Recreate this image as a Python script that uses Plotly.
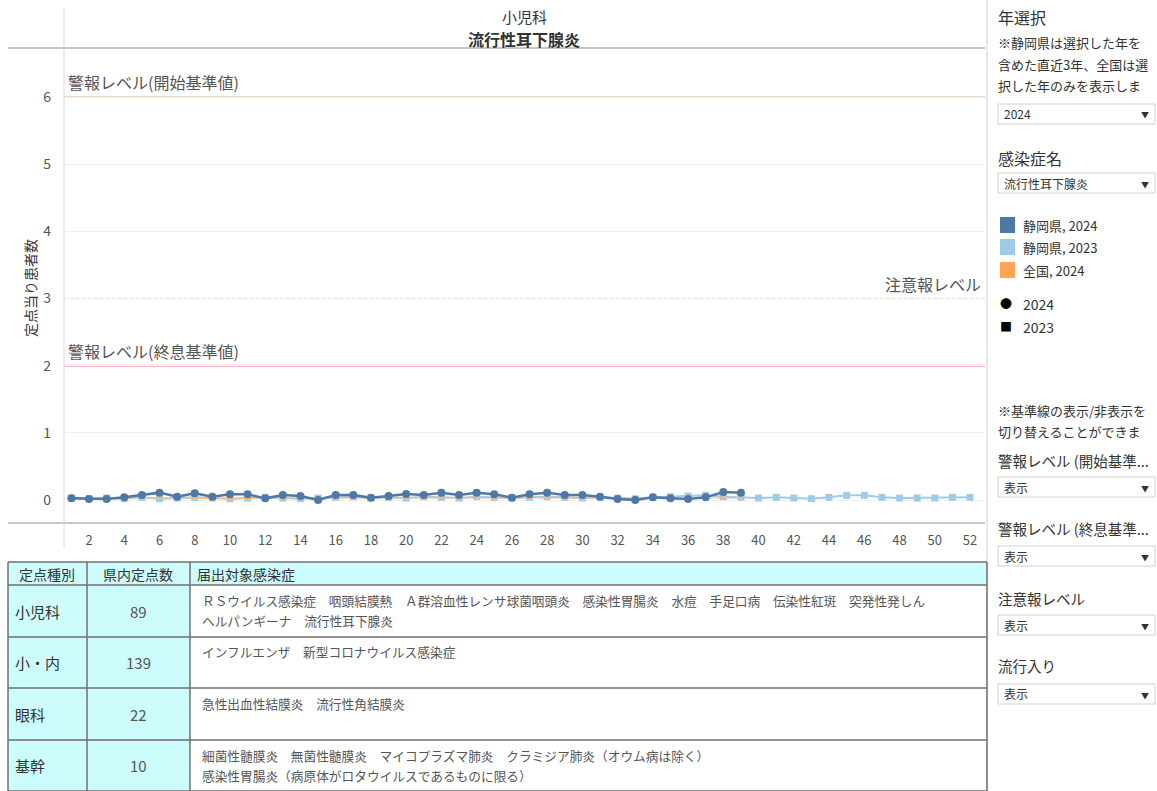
import plotly.graph_objects as go

# ---------------- data ----------------
weeks_2024 = [1, 2, 3, 4, 5, 6, 7, 8, 9, 10, 11, 12, 13, 14, 15, 16, 17, 18, 19, 20,
              21, 22, 23, 24, 25, 26, 27, 28, 29, 30, 31, 32, 33, 34, 35, 36, 37, 38, 39]
weeks_2023 = [1, 2, 3, 4, 5, 6, 7, 8, 9, 10, 11, 12, 13, 14, 15, 16, 17, 18, 19, 20,
              21, 22, 23, 24, 25, 26, 27, 28, 29, 30, 31, 32, 33, 34, 35, 36, 37, 38, 39, 40,
              41, 42, 43, 44, 45, 46, 47, 48, 49, 50, 51, 52]
shizuoka_2024 = [0.025, 0.015, 0.015, 0.04, 0.075, 0.11, 0.05, 0.10, 0.05, 0.085,
                 0.085, 0.025, 0.075, 0.06, 0.0, 0.075, 0.075, 0.035, 0.06, 0.09,
                 0.075, 0.11, 0.075, 0.11, 0.085, 0.035, 0.085, 0.11, 0.075, 0.075,
                 0.05, 0.015, 0.0, 0.04, 0.025, 0.015, 0.04, 0.12, 0.11]
shizuoka_2023 = [0.03, 0.02, 0.03, 0.02, 0.04, 0.02, 0.03, 0.04, 0.03, 0.02,
                 0.03, 0.04, 0.03, 0.02, 0.03, 0.04, 0.05, 0.03, 0.04, 0.03,
                 0.05, 0.04, 0.03, 0.05, 0.04, 0.03, 0.04, 0.05, 0.04, 0.03,
                 0.04, 0.03, 0.02, 0.04, 0.05, 0.06, 0.07, 0.05, 0.04, 0.03,
                 0.04, 0.03, 0.02, 0.04, 0.07, 0.07, 0.04, 0.03, 0.03, 0.03,
                 0.04, 0.04]
national_2024 = [0.03, 0.03, 0.03, 0.03, 0.03, 0.04, 0.03, 0.03, 0.02, 0.015,
                 0.02, 0.03, 0.03, 0.03, 0.03, 0.03, 0.03, 0.03, 0.03, 0.03,
                 0.03, 0.03, 0.03, 0.03, 0.02, 0.02, 0.03, 0.03, 0.03, 0.03,
                 0.03, 0.03, 0.03, 0.03, 0.03, 0.03, 0.03, 0.03, 0.03]
x_ticks = [2, 4, 6, 8, 10, 12, 14, 16, 18, 20, 22, 24, 26, 28, 30, 32, 34, 36, 38, 40,
           42, 44, 46, 48, 50, 52]
y_ticks = [0, 1, 2, 3, 4, 5, 6]
ref_levels = [6, 2, 3]
ref_labels = ["警報レベル(開始基準値)", "警報レベル(終息基準値)", "注意報レベル"]

table_header = ["定点種別", "県内定点数", "届出対象感染症"]
table_types = ["小児科", "小・内", "眼科", "基幹"]
table_counts = ["89", "139", "22", "10"]
table_diseases = [
    ["ＲＳウイルス感染症　咽頭結膜熱　Ａ群溶血性レンサ球菌咽頭炎　感染性胃腸炎　水痘　手足口病　伝染性紅斑　突発性発しん",
     "ヘルパンギーナ　流行性耳下腺炎"],
    ["インフルエンザ　新型コロナウイルス感染症"],
    ["急性出血性結膜炎　流行性角結膜炎"],
    ["細菌性髄膜炎　無菌性髄膜炎　マイコプラズマ肺炎　クラミジア肺炎（オウム病は除く）",
     "感染性胃腸炎（病原体がロタウイルスであるものに限る）"],
]

# ---------------- layout geometry ----------------
W, H = 1157, 791
L, R, T, B = 64, 985, 48, 523
FONT = "Noto Sans CJK JP"


def px(x):
    return (x - L) / (R - L)


def py(y):
    return (B - y) / (B - T)


fig = go.Figure()

# reference lines
ref_colors = ["#e8d6c8", "#f0a6b0", "#c9cfb4"]
ref_dash = ["solid", "solid", "dot"]
ref_width = [2, 2, 1.5]
for lv, c, d, w in zip(ref_levels, ref_colors, ref_dash, ref_width):
    fig.add_shape(type="line", xref="paper", yref="y", x0=0, x1=1, y0=lv, y1=lv,
                  line=dict(color=c, width=w, dash=d), layer="below")

fig.add_trace(go.Scatter(x=weeks_2023, y=shizuoka_2023, mode="lines+markers",
                         line=dict(color="#a0cbe8", width=2),
                         marker=dict(symbol="square", size=7, color="#a0cbe8"),
                         name="静岡県, 2023", showlegend=False))
fig.add_trace(go.Scatter(x=weeks_2024, y=national_2024, mode="lines+markers",
                         line=dict(color="#ffb877", width=1),
                         marker=dict(symbol="circle", size=4, color="#ffb877"),
                         name="全国, 2024", showlegend=False))
fig.add_trace(go.Scatter(x=weeks_2024, y=shizuoka_2024, mode="lines+markers",
                         line=dict(color="#4e79a7", width=2.5),
                         marker=dict(symbol="circle", size=8, color="#4e79a7"),
                         name="静岡県, 2024", showlegend=False))

fig.update_layout(
    width=W, height=H,
    margin=dict(l=L, r=W - R, t=T, b=H - B, pad=0),
    paper_bgcolor="white", plot_bgcolor="white",
    font=dict(family=FONT, color="#555555", size=13),
    showlegend=False,
    xaxis=dict(range=[0.58, 52.85], tickvals=x_ticks, ticks="", showgrid=False,
               zeroline=False, showline=False, tickfont=dict(size=13, color="#555"),
               ticklabelstandoff=8, fixedrange=True),
    yaxis=dict(range=[-0.342, 6.73], tickvals=y_ticks, ticks="", showgrid=True,
               gridcolor="#f0f0f0", gridwidth=1, zeroline=False, showline=False,
               tickfont=dict(size=14, color="#555"), ticklabelstandoff=12,
               fixedrange=True),
)

shapes = []
annos = []


def hline(x0, x1, y, color="#c8c8c8", width=1):
    shapes.append(dict(type="line", xref="paper", yref="paper", x0=px(x0), x1=px(x1),
                       y0=py(y), y1=py(y), line=dict(color=color, width=width)))


def vline(x, y0, y1, color="#c8c8c8", width=1):
    shapes.append(dict(type="line", xref="paper", yref="paper", x0=px(x), x1=px(x),
                       y0=py(y0), y1=py(y1), line=dict(color=color, width=width)))


def rect(x0, y0, x1, y1, fill, line_color="rgba(0,0,0,0)", width=1):
    shapes.append(dict(type="rect", xref="paper", yref="paper", x0=px(x0), x1=px(x1),
                       y0=py(y1), y1=py(y0), fillcolor=fill,
                       line=dict(color=line_color, width=width), layer="below"))


def text(x, y, s, size=13, color="#555555", anchor="left", bold=False):
    if bold:
        s = "<b>" + s + "</b>"
    annos.append(dict(xref="paper", yref="paper", x=px(x), y=py(y), text=s,
                      showarrow=False, xanchor=anchor, yanchor="middle",
                      font=dict(size=size, color=color, family=FONT)))


# frame lines
hline(8, 985, 48, "#c8c8c8", 2)
hline(8, 985, 523, "#c8c8c8", 2)
vline(64, 8, 548, "#d8d8d8", 1)
vline(987, 0, 791, "#d0d0d0", 1)

# title
text(524, 16, "小児科", 15, "#333333", "center")
text(524, 39, "流行性耳下腺炎", 16, "#333333", "center", bold=True)

# y-axis title
annos.append(dict(xref="paper", yref="paper", x=px(30), y=py(288), text="定点当り患者数",
                  showarrow=False, textangle=-90, xanchor="center", yanchor="middle",
                  font=dict(size=14, color="#333333", family=FONT)))

# reference labels
text(66, 82, ref_labels[0], 16, "#555555")
text(66, 351, ref_labels[1], 16, "#555555")
text(983, 284, ref_labels[2], 16, "#555555", "right")

# ---------------- table ----------------
cols = [8, 87, 190, 987]
rows = [562, 585, 637, 688, 740, 791]
cyan = "#ccfcfc"
rect(8, 562, 987, 585, cyan)
rect(8, 585, 190, 791, cyan)
for yy in rows:
    hline(8, 987, yy, "#707070", 1.5)
for xx in cols:
    vline(xx, 562, 791, "#707070", 1.5)
text(47, 574, table_header[0], 14, "#333333", "center")
text(138, 574, table_header[1], 14, "#333333", "center")
text(195, 574, table_header[2], 14, "#333333")
for i in range(4):
    top, bot = rows[i + 1], rows[i + 2]
    mid = (top + bot) / 2
    text(13, mid, table_types[i], 15, "#333333")
    text(138, mid, table_counts[i], 15, "#555555", "center")
    for j, line in enumerate(table_diseases[i]):
        text(200, top + 15 + 20 * j, line, 12.7, "#555555")

# ---------------- right panel ----------------
text(996, 17, "年選択", 16, "#333333")
for k, s in enumerate(["※静岡県は選択した年を", "含めた直近3年、全国は選", "択した年のみを表示しま"]):
    text(996, 43 + 21.5 * k, s, 13, "#333333")


def dropdown(ytop, label):
    shapes.append(dict(type="rect", xref="paper", yref="paper", x0=px(998), x1=px(1155),
                       y0=py(ytop + 20), y1=py(ytop), fillcolor="white",
                       line=dict(color="#d0d0d0", width=1)))
    text(1002, ytop + 10, label, 12, "#333333")
    text(1145, ytop + 11, "▼", 8, "#333333", "center")


dropdown(104, "2024")
text(996, 158, "感染症名", 16, "#333333")
dropdown(173, "流行性耳下腺炎")

legend_items = [("#4e79a7", "静岡県, 2024", 225), ("#a0cbe8", "静岡県, 2023", 247),
                ("#ffa558", "全国, 2024", 270)]
for col, lab, yy in legend_items:
    rect(1000, yy - 8, 1015, yy + 8, col)
    text(1021, yy, lab, 13, "#333333")

annos.append(dict(xref="paper", yref="paper", x=px(1006), y=py(303), text="●",
                  showarrow=False, font=dict(size=12, color="black"), xanchor="center",
                  yanchor="middle"))
text(1021, 304, "2024", 14, "#333333")
annos.append(dict(xref="paper", yref="paper", x=px(1006), y=py(326), text="■",
                  showarrow=False, font=dict(size=12, color="black"), xanchor="center",
                  yanchor="middle"))
text(1021, 327, "2023", 14, "#333333")

text(996, 410, "※基準線の表示/非表示を", 13, "#333333")
text(996, 431, "切り替えることができま", 13, "#333333")
text(996, 460, "警報レベル (開始基準...", 14.5, "#333333")
dropdown(477, "表示")
text(996, 528, "警報レベル (終息基準...", 14.5, "#333333")
dropdown(546, "表示")
text(996, 598, "注意報レベル", 14.5, "#333333")
dropdown(615, "表示")
text(996, 666, "流行入り", 14.5, "#333333")
dropdown(684, "表示")

fig.update_layout(shapes=list(fig.layout.shapes) + shapes, annotations=annos)
fig.write_html("out.html", config={"displayModeBar": False})

# remove the default body margin so the figure sits at the window's top-left
with open("out.html", "r", encoding="utf-8") as f:
    html = f.read()
html = html.replace("<head>", "<head><style>html,body{margin:0;padding:0;overflow:hidden;}</style>", 1)
with open("out.html", "w", encoding="utf-8") as f:
    f.write(html)
